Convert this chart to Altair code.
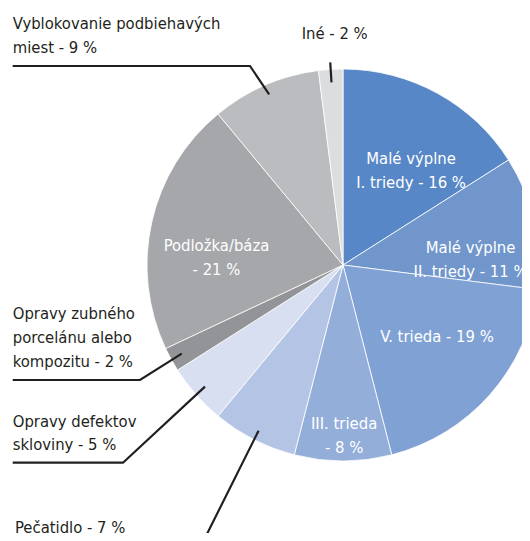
import math
import altair as alt
import pandas as pd

# ---------------- data ----------------
categories = [
    "Malé výplne I. triedy",
    "Malé výplne II. triedy",
    "V. trieda",
    "III. trieda",
    "Pečatidlo",
    "Opravy defektov skloviny",
    "Opravy zubného porcelánu alebo kompozitu",
    "Podložka/báza",
    "Vyblokovanie podbiehavých miest",
    "Iné",
]
values = [16, 11, 19, 8, 7, 5, 2, 21, 9, 2]
label_lines = [
    "Malé výplne\nI. triedy - 16 %",
    "Malé výplne\nII. triedy - 11 %",
    "V. trieda - 19 %",
    "III. trieda\n- 8 %",
    "Pečatidlo - 7 %",
    "Opravy defektov\nskloviny - 5 %",
    "Opravy zubného\nporcelánu alebo\nkompozitu - 2 %",
    "Podložka/báza\n- 21 %",
    "Vyblokovanie podbiehavých\nmiest - 9 %",
    "Iné - 2 %",
]

# ---------------- style / layout ----------------
colors = ["#5787C6", "#7096CC", "#80A1D4", "#94AEDA", "#B4C4E4",
          "#D8DFF0", "#939497", "#A6A7AA", "#BBBCBF", "#DCDDDF"]
FONT = "DejaVu Sans Condensed"
FS = 16.5
INK = "#231F20"
OFF = 8                       # page margin
CX, CY, R = 343 - OFF, 265 - OFF, 196

# labels inside slices: index -> (radius, angular nudge in degrees)
inside = {0: (126, 3.9), 1: (128.7, 4.9), 2: (118.6, -3.8), 3: (159, -0.4), 7: (128, -3.9)}
# labels outside: index -> (left x, first baseline y) in page px
outside = {8: (12.7, 29.3), 9: (301.7, 39), 6: (12.7, 319.3), 5: (12.7, 426.7), 4: (15, 532.7)}
# leader lines: index -> (inner radius, outer polyline points in page px, going outward)
leaders = {
    8: (186, [(250, 66), (12.7, 66)]),
    9: (183, None),
    6: (184, [(140, 380), (12.7, 380)]),
    5: (184, [(123, 462.7), (12.7, 462.7)]),
    4: (186, [(198, 552)]),
}

total = sum(values)
mids = []
cum = 0
for v in values:
    mids.append((cum + v / 2) / total * 2 * math.pi)
    cum += v

pie_df = pd.DataFrame({"kategoria": categories, "podiel": values,
                       "poradie": list(range(len(categories)))})

arcs = alt.Chart(pie_df).mark_arc(outerRadius=R, stroke="white", strokeWidth=0.8).encode(
    theta=alt.Theta("podiel:Q", stack=True),
    color=alt.Color("kategoria:N", scale=alt.Scale(domain=categories, range=colors), legend=None),
    order=alt.Order("poradie:Q"),
    x=alt.value(CX),
    y=alt.value(CY),
)

in_rows = []
for i, (r, nudge) in inside.items():
    in_rows.append({"text": label_lines[i], "uhol": mids[i] + math.radians(nudge), "polomer": r})
inner = alt.Chart(pd.DataFrame(in_rows)).mark_text(
    color="white", font=FONT, fontSize=FS, lineHeight=24, lineBreak="\n",
    align="center", baseline="middle",
).encode(
    x=alt.value(CX), y=alt.value(CY),
    theta=alt.Theta("uhol:Q", scale=None, stack=False),
    radius=alt.Radius("polomer:Q", scale=None),
    text="text:N",
)

out_rows = []
for i, (lx, ly) in outside.items():
    out_rows.append({"text": label_lines[i], "lx": lx - OFF, "ly": ly - OFF})
outer = alt.Chart(pd.DataFrame(out_rows)).mark_text(
    color=INK, font=FONT, fontSize=FS, lineHeight=23.7, lineBreak="\n",
    align="left", baseline="alphabetic",
).encode(
    x=alt.X("lx:Q", scale=None, axis=None),
    y=alt.Y("ly:Q", scale=None, axis=None),
    text="text:N",
)

line_rows = []
for i, (r_in, pts) in leaders.items():
    a = mids[i]
    sx = CX + r_in * math.sin(a)
    sy = CY - r_in * math.cos(a)
    line_rows.append({"id": i, "krok": 0, "px": sx, "py": sy})
    if pts is None:
        r_out = 203
        line_rows.append({"id": i, "krok": 1, "px": CX + r_out * math.sin(a), "py": CY - r_out * math.cos(a)})
    else:
        for k, (px, py) in enumerate(pts, start=1):
            line_rows.append({"id": i, "krok": k, "px": px - OFF, "py": py - OFF})
lines = alt.Chart(pd.DataFrame(line_rows)).mark_line(color=INK, strokeWidth=2.2).encode(
    x=alt.X("px:Q", scale=None, axis=None),
    y=alt.Y("py:Q", scale=None, axis=None),
    detail="id:N",
    order="krok:Q",
)

chart = alt.layer(arcs, lines, inner, outer).properties(
    width=530 - 2 * OFF, height=541 - 2 * OFF, padding=0, autosize="none", background="white",
).configure_view(stroke=None)

chart.save("out.html", embed_options={"renderer": "svg", "actions": False})
